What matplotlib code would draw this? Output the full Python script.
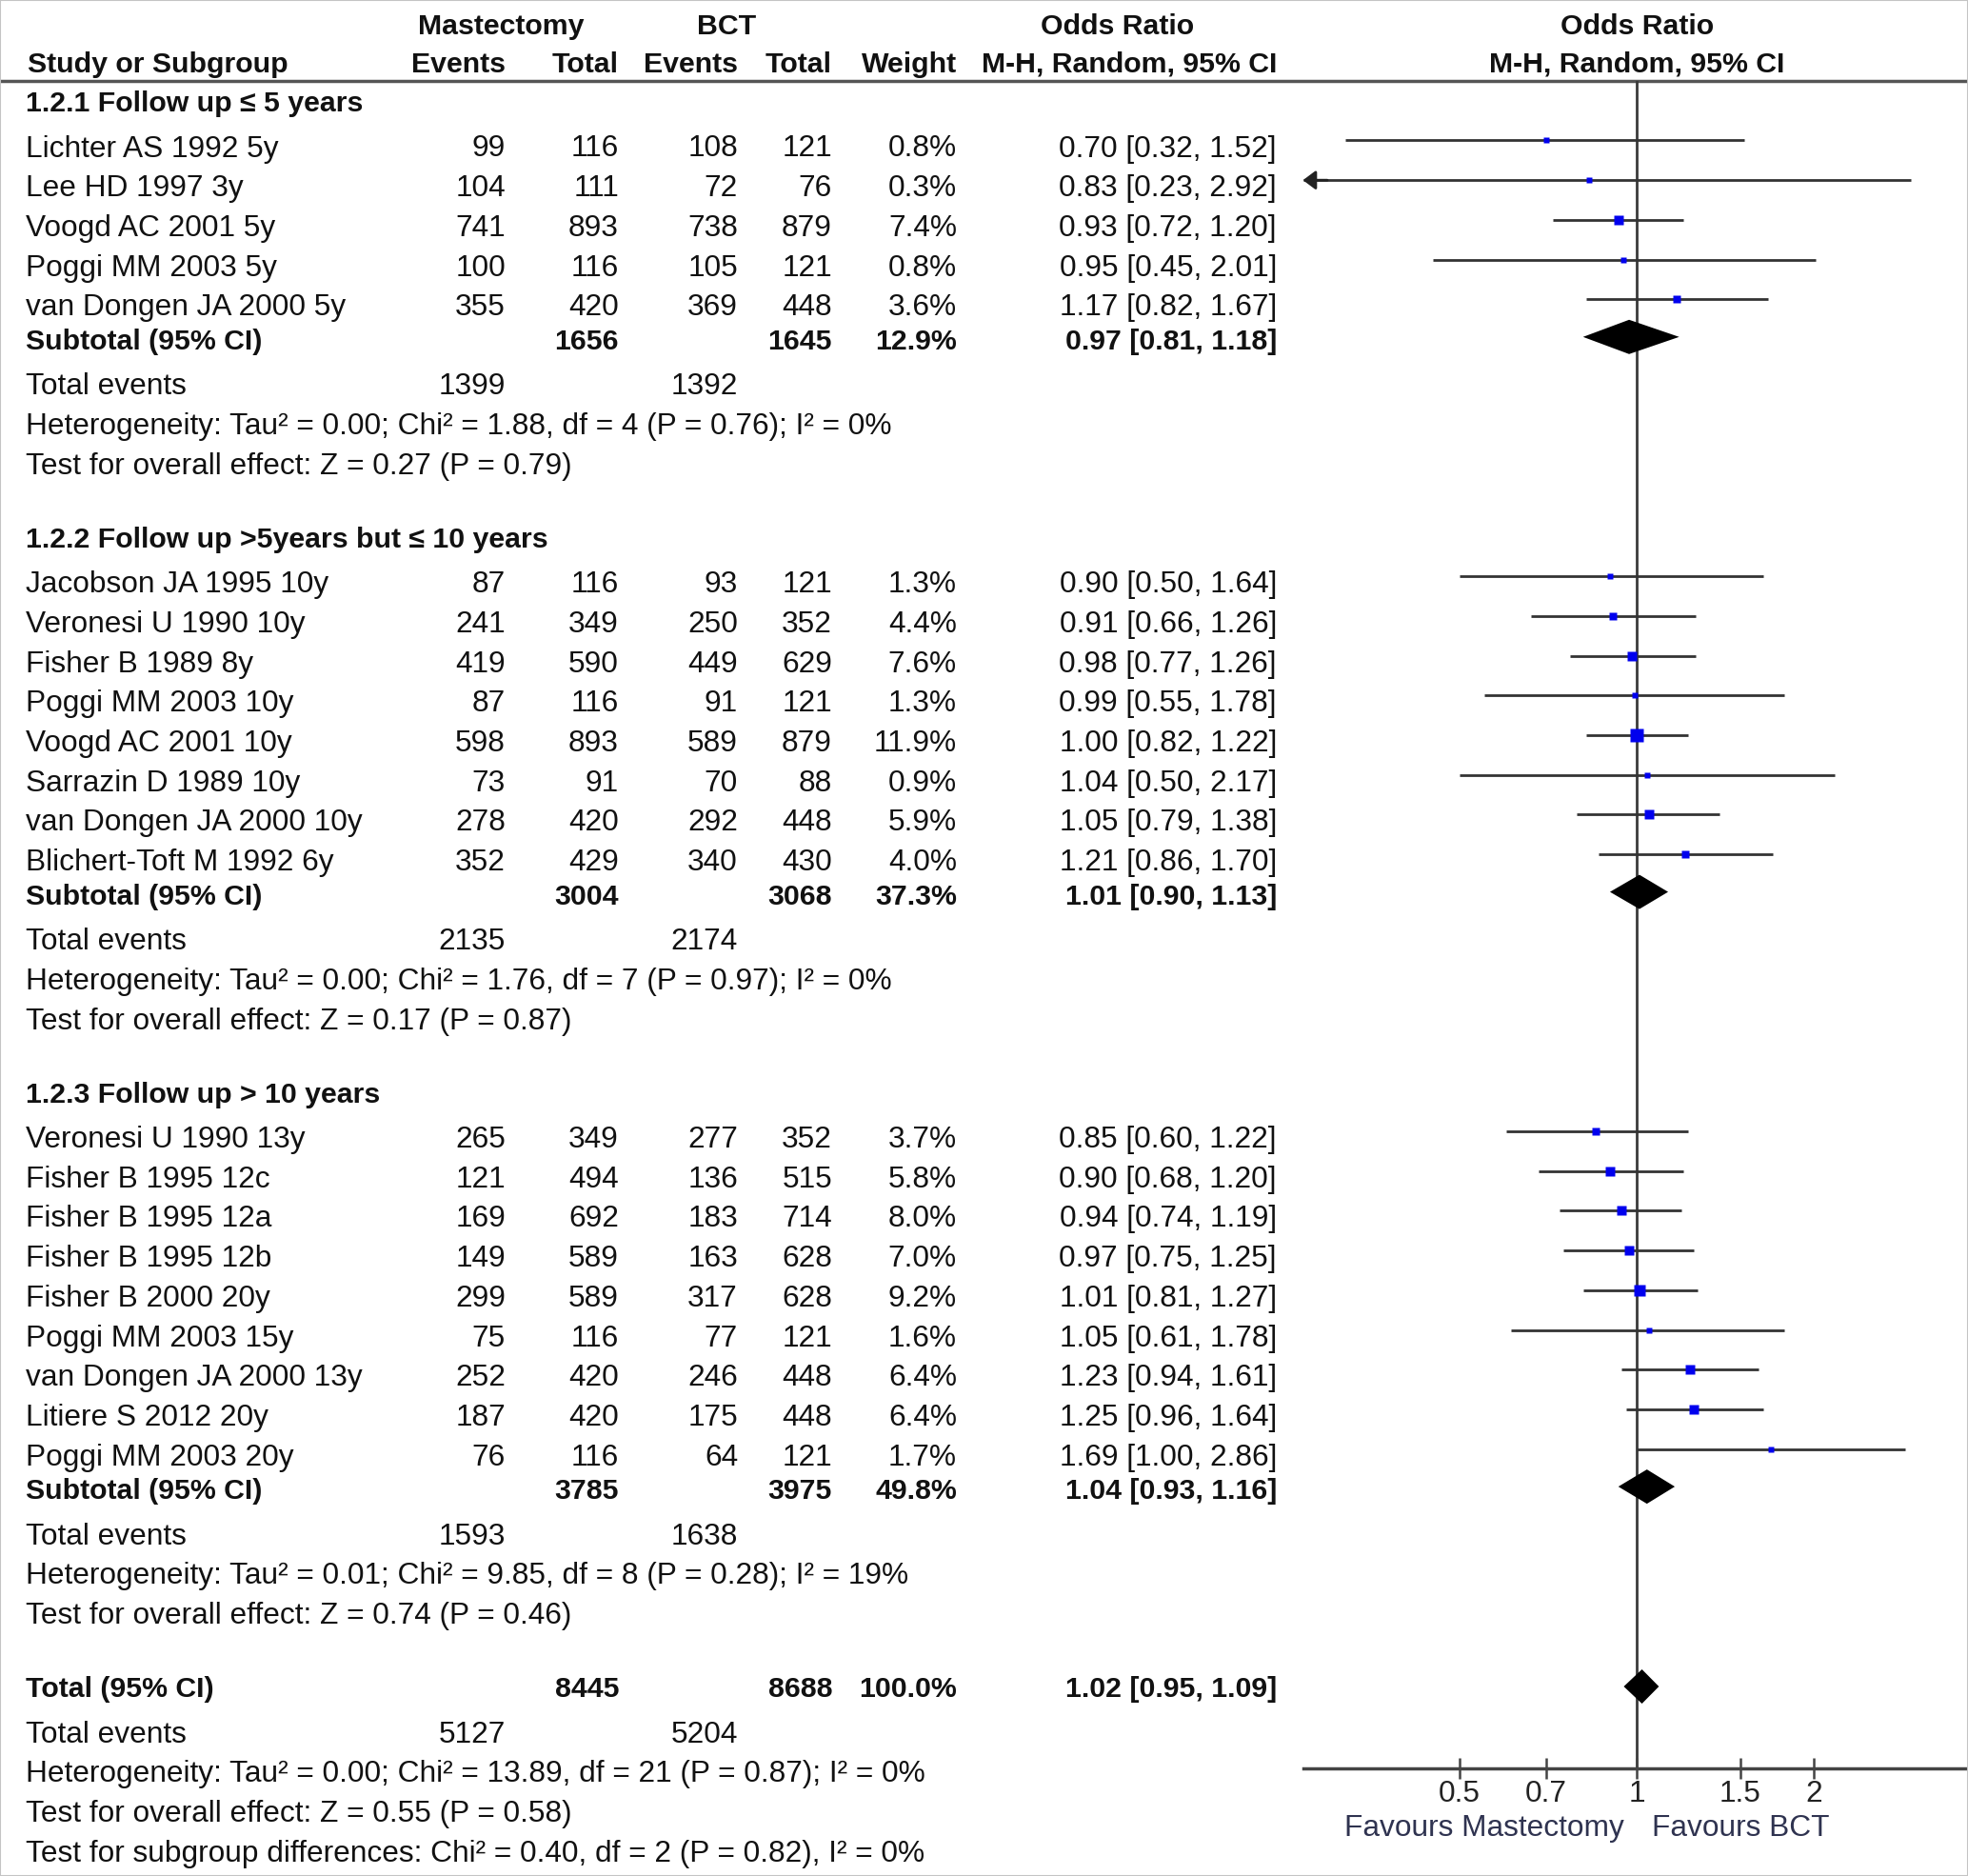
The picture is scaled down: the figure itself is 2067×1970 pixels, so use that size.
import numpy as np
import matplotlib.pyplot as plt
import matplotlib.transforms as mtransforms
from matplotlib.patches import Rectangle
from matplotlib.ticker import NullLocator

plt.rcParams['font.family'] = ['Liberation Sans', 'DejaVu Sans']

# ---------------- data ----------------
group_titles = ['1.2.1 Follow up \u2264 5 years',
                '1.2.2 Follow up >5years but \u2264 10 years',
                '1.2.3 Follow up > 10 years']

g1_names = ['Lichter AS 1992 5y', 'Lee HD 1997 3y', 'Voogd AC 2001 5y',
            'Poggi MM 2003 5y', 'van Dongen JA 2000 5y']
g1_mast_ev = [99, 104, 741, 100, 355]
g1_mast_tot = [116, 111, 893, 116, 420]
g1_bct_ev = [108, 72, 738, 105, 369]
g1_bct_tot = [121, 76, 879, 121, 448]
g1_weight = [0.8, 0.3, 7.4, 0.8, 3.6]
g1_or = [0.70, 0.83, 0.93, 0.95, 1.17]
g1_lo = [0.32, 0.23, 0.72, 0.45, 0.82]
g1_hi = [1.52, 2.92, 1.20, 2.01, 1.67]

g2_names = ['Jacobson JA 1995 10y', 'Veronesi U 1990 10y', 'Fisher B 1989 8y',
            'Poggi MM 2003 10y', 'Voogd AC 2001 10y', 'Sarrazin D 1989 10y',
            'van Dongen JA 2000 10y', 'Blichert-Toft M 1992 6y']
g2_mast_ev = [87, 241, 419, 87, 598, 73, 278, 352]
g2_mast_tot = [116, 349, 590, 116, 893, 91, 420, 429]
g2_bct_ev = [93, 250, 449, 91, 589, 70, 292, 340]
g2_bct_tot = [121, 352, 629, 121, 879, 88, 448, 430]
g2_weight = [1.3, 4.4, 7.6, 1.3, 11.9, 0.9, 5.9, 4.0]
g2_or = [0.90, 0.91, 0.98, 0.99, 1.00, 1.04, 1.05, 1.21]
g2_lo = [0.50, 0.66, 0.77, 0.55, 0.82, 0.50, 0.79, 0.86]
g2_hi = [1.64, 1.26, 1.26, 1.78, 1.22, 2.17, 1.38, 1.70]

g3_names = ['Veronesi U 1990 13y', 'Fisher B 1995 12c', 'Fisher B 1995 12a',
            'Fisher B 1995 12b', 'Fisher B 2000 20y', 'Poggi MM 2003 15y',
            'van Dongen JA 2000 13y', 'Litiere S 2012 20y', 'Poggi MM 2003 20y']
g3_mast_ev = [265, 121, 169, 149, 299, 75, 252, 187, 76]
g3_mast_tot = [349, 494, 692, 589, 589, 116, 420, 420, 116]
g3_bct_ev = [277, 136, 183, 163, 317, 77, 246, 175, 64]
g3_bct_tot = [352, 515, 714, 628, 628, 121, 448, 448, 121]
g3_weight = [3.7, 5.8, 8.0, 7.0, 9.2, 1.6, 6.4, 6.4, 1.7]
g3_or = [0.85, 0.90, 0.94, 0.97, 1.01, 1.05, 1.23, 1.25, 1.69]
g3_lo = [0.60, 0.68, 0.74, 0.75, 0.81, 0.61, 0.94, 0.96, 1.00]
g3_hi = [1.22, 1.20, 1.19, 1.25, 1.27, 1.78, 1.61, 1.64, 2.86]

sub_mast_tot = [1656, 3004, 3785]
sub_bct_tot = [1645, 3068, 3975]
sub_weight = [12.9, 37.3, 49.8]
sub_or = [0.97, 1.01, 1.04]
sub_lo = [0.81, 0.90, 0.93]
sub_hi = [1.18, 1.13, 1.16]
sub_te_mast = [1399, 2135, 1593]
sub_te_bct = [1392, 2174, 1638]
sub_tau2 = [0.00, 0.00, 0.01]
sub_chi2 = [1.88, 1.76, 9.85]
sub_df = [4, 7, 8]
sub_het_p = [0.76, 0.97, 0.28]
sub_i2 = [0, 0, 19]
sub_z = [0.27, 0.17, 0.74]
sub_z_p = [0.79, 0.87, 0.46]

total_mast, total_bct, total_weight = 8445, 8688, 100.0
total_or, total_lo, total_hi = 1.02, 0.95, 1.09
total_te_mast, total_te_bct = 5127, 5204
total_tau2, total_chi2, total_df, total_het_p, total_i2 = 0.00, 13.89, 21, 0.87, 0
total_z, total_z_p = 0.55, 0.58
subgroup_chi2, subgroup_df, subgroup_p, subgroup_i2 = 0.40, 2, 0.82, 0

ticks = [0.5, 0.7, 1, 1.5, 2]
tick_labels = ['0.5', '0.7', '1', '1.5', '2']
favours_left = 'Favours Mastectomy'
favours_right = 'Favours BCT'

groups = [
    (g1_names, g1_mast_ev, g1_mast_tot, g1_bct_ev, g1_bct_tot, g1_weight, g1_or, g1_lo, g1_hi),
    (g2_names, g2_mast_ev, g2_mast_tot, g2_bct_ev, g2_bct_tot, g2_weight, g2_or, g2_lo, g2_hi),
    (g3_names, g3_mast_ev, g3_mast_tot, g3_bct_ev, g3_bct_tot, g3_weight, g3_or, g3_lo, g3_hi),
]

# ---------------- layout (pixels) ----------------
W, H = 2067, 1970
FS = 22.8
FSB = 21.8   # bold text runs a bit narrower in the original
TXT = '#111111'
col_name, col_ev1, col_tot1, col_ev2, col_tot2, col_wt, col_or = 27, 531, 650, 775, 874, 1005, 1341
pitch = 41.7
axis_y, head_line_y = 1857, 85
xmin, xmax = 0.2706, 3.655

fig = plt.figure(figsize=(W / 100, H / 100), dpi=100)
tab = fig.add_axes([0, 0, 1, 1])
tab.set_xlim(0, W)
tab.set_ylim(H, 0)
tab.axis('off')

fa = fig.add_axes([1368.5 / W, (H - axis_y) / H, (W - 1368.5) / W, (axis_y - head_line_y) / H])
fa.patch.set_visible(False)
fa.set_xscale('log')
fa.set_xlim(xmin, xmax)
fa.set_ylim(axis_y, head_line_y)
for s in ['top', 'left', 'right']:
    fa.spines[s].set_visible(False)
fa.spines['bottom'].set_linewidth(2.5)
fa.spines['bottom'].set_color('#444444')
fa.set_yticks([])
fa.set_xticks(ticks)
fa.set_xticklabels(tick_labels)
fa.xaxis.set_minor_locator(NullLocator())
fa.tick_params(axis='x', direction='inout', length=16, width=1.8, color='#444444',
               labelsize=FS, labelcolor='#222222', pad=1)

fa.axvline(1, color='#3a3a3a', lw=2, zorder=1)

# mixed transform: x in odds ratio, y in pixels
or_x = mtransforms.blended_transform_factory(fa.transData, tab.transData)


def put(x, y, s, ha='left', bold=False, tr=None):
    tab.text(x, y + 11, s, ha=ha, va='baseline', fontsize=FSB if bold else FS, color=TXT,
             fontweight='bold' if bold else 'normal',
             transform=tr if tr is not None else tab.transData)


def ci_text(o, l, h):
    return f'{o:.2f} [{l:.2f}, {h:.2f}]'


def het_text(tau, chi, df, p, i2):
    return (f'Heterogeneity: Tau\u00b2 = {tau:.2f}; Chi\u00b2 = {chi:.2f}, '
            f'df = {df} (P = {p:.2f}); I\u00b2 = {i2}%')


def diamond(y, o, l, h):
    fa.fill([l, o, h, o], [y, y - 18, y, y + 18], color='black', lw=0, zorder=3)


# header
put(526, 25, 'Mastectomy', ha='center', bold=True)
put(763, 25, 'BCT', ha='center', bold=True)
put(1174, 25, 'Odds Ratio', ha='center', bold=True)
put(1, 25, 'Odds Ratio', ha='center', bold=True, tr=or_x)
put(29, 65, 'Study or Subgroup', bold=True)
put(col_ev1, 65, 'Events', ha='right', bold=True)
put(col_tot1, 65, 'Total', ha='right', bold=True)
put(col_ev2, 65, 'Events', ha='right', bold=True)
put(col_tot2, 65, 'Total', ha='right', bold=True)
put(col_wt, 65, 'Weight', ha='right', bold=True)
put(col_or, 65, 'M-H, Random, 95% CI', ha='right', bold=True)
put(1, 65, 'M-H, Random, 95% CI', ha='center', bold=True, tr=or_x)
tab.plot([0, W], [head_line_y, head_line_y], color='#555555', lw=2.5, solid_capstyle='butt')

y = 106
for gi, (names, mev, mtot, bev, btot, wt, o, lo, hi) in enumerate(groups):
    put(col_name, y, group_titles[gi], bold=True)
    y += 47.5
    for i in range(len(names)):
        put(col_name, y, names[i])
        put(col_ev1, y, str(mev[i]), ha='right')
        put(col_tot1, y, str(mtot[i]), ha='right')
        put(col_ev2, y, str(bev[i]), ha='right')
        put(col_tot2, y, str(btot[i]), ha='right')
        put(col_wt, y, f'{wt[i]:.1f}%', ha='right')
        put(col_or, y, ci_text(o[i], lo[i], hi[i]), ha='right')
        ym = y - 6
        fa.plot([max(lo[i], xmin), min(hi[i], xmax)], [ym, ym], color='#333333', lw=2, zorder=2,
                solid_capstyle='butt')
        if lo[i] < xmin:
            fa.annotate('', xy=(xmin, ym), xytext=(xmin * 1.1, ym),
                        arrowprops=dict(arrowstyle='-|>,head_length=0.32,head_width=0.24',
                                        mutation_scale=25, color='#222222', lw=2,
                                        shrinkA=0, shrinkB=0),
                        annotation_clip=False)
        side = max(5.5, 3.8 * np.sqrt(wt[i])) * 0.72
        fa.plot(o[i], ym, marker='s', ms=side, color='#0000ee', mec='none', zorder=4)
        y += pitch
    y += 35.5 - pitch
    put(col_name, y, 'Subtotal (95% CI)', bold=True)
    put(col_tot1, y, str(sub_mast_tot[gi]), ha='right', bold=True)
    put(col_tot2, y, str(sub_bct_tot[gi]), ha='right', bold=True)
    put(col_wt, y, f'{sub_weight[gi]:.1f}%', ha='right', bold=True)
    put(col_or, y, ci_text(sub_or[gi], sub_lo[gi], sub_hi[gi]), ha='right', bold=True)
    diamond(y - 2, sub_or[gi], sub_lo[gi], sub_hi[gi])
    y += 47.5
    put(col_name, y, 'Total events')
    put(col_ev1, y, str(sub_te_mast[gi]), ha='right')
    put(col_ev2, y, str(sub_te_bct[gi]), ha='right')
    y += pitch
    put(col_name, y, het_text(sub_tau2[gi], sub_chi2[gi], sub_df[gi], sub_het_p[gi], sub_i2[gi]))
    y += pitch
    put(col_name, y, f'Test for overall effect: Z = {sub_z[gi]:.2f} (P = {sub_z_p[gi]:.2f})')
    y += 77

put(col_name, y, 'Total (95% CI)', bold=True)
put(col_tot1, y, str(total_mast), ha='right', bold=True)
put(col_tot2, y, str(total_bct), ha='right', bold=True)
put(col_wt, y, f'{total_weight:.1f}%', ha='right', bold=True)
put(col_or, y, ci_text(total_or, total_lo, total_hi), ha='right', bold=True)
diamond(y, total_or, total_lo, total_hi)
y += 47.5
put(col_name, y, 'Total events')
put(col_ev1, y, str(total_te_mast), ha='right')
put(col_ev2, y, str(total_te_bct), ha='right')
y += pitch
put(col_name, y, het_text(total_tau2, total_chi2, total_df, total_het_p, total_i2))
y += pitch
put(col_name, y, f'Test for overall effect: Z = {total_z:.2f} (P = {total_z_p:.2f})')
y += pitch
put(col_name, y, f'Test for subgroup differences: Chi\u00b2 = {subgroup_chi2:.2f}, '
                 f'df = {subgroup_df} (P = {subgroup_p:.2f}), I\u00b2 = {subgroup_i2}%')

# favours labels under the axis
for s, dx, ha in [(favours_left, -13, 'right'), (favours_right, 16, 'left')]:
    fa.annotate(s, xy=(1, 0), xycoords=('data', 'axes fraction'), xytext=(dx, -63),
                textcoords='offset pixels', ha=ha, va='center', fontsize=FS,
                color='#2f3350', annotation_clip=False)

fig.patches.append(Rectangle((0, 0), 1, 1, transform=fig.transFigure, fill=False,
                             ec='#c4c4c4', lw=1.5))

fig.savefig('out.png', dpi=100)
